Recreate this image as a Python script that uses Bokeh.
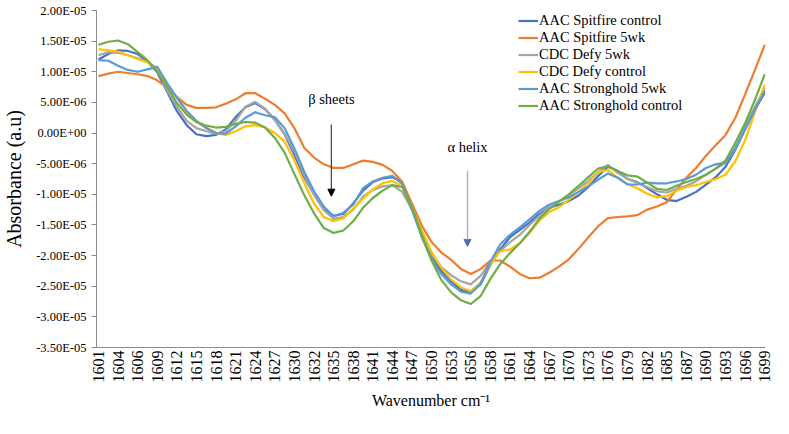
import math
from bokeh.plotting import figure
from bokeh.models import (Legend, LegendItem, FixedTicker, CustomJSTickFormatter,
                          Range1d, Arrow, NormalHead, Label, ColumnDataSource)
from bokeh.embed import file_html
from bokeh.resources import INLINE

# Wavenumber (cm-1) of each plotted sample
WAVENUMBER = [1600.62, 1602.07, 1603.51, 1604.96, 1606.41, 1607.85, 1609.30, 1610.74, 1612.19, 1613.64,
              1615.08, 1616.53, 1617.98, 1619.42, 1620.87, 1622.32, 1623.76, 1625.21, 1626.66, 1628.10,
              1629.55, 1630.99, 1632.44, 1633.89, 1635.33, 1636.78, 1638.23, 1639.67, 1641.12, 1642.57,
              1644.01, 1645.46, 1646.90, 1648.35, 1649.80, 1651.24, 1652.69, 1654.14, 1655.58, 1657.03,
              1658.48, 1659.92, 1661.37, 1662.82, 1664.26, 1665.71, 1667.15, 1668.60, 1670.05, 1671.49,
              1672.94, 1674.39, 1675.83, 1677.28, 1678.73, 1680.17, 1681.62, 1683.06, 1684.51, 1685.96,
              1687.40, 1688.85, 1690.30, 1691.74, 1693.19, 1694.64, 1696.08, 1697.53, 1698.98]

X_TICK_LABELS = ["1601", "1604", "1606", "1609", "1612", "1615", "1618", "1621", "1624", "1627",
                 "1630", "1632", "1635", "1638", "1641", "1644", "1647", "1650", "1653", "1656",
                 "1658", "1661", "1664", "1667", "1670", "1673", "1676", "1679", "1682", "1685",
                 "1687", "1690", "1693", "1696", "1699"]
X_TICKS = WAVENUMBER[0::2]

Y_TICKS = [-3.5e-05, -3.0e-05, -2.5e-05, -2.0e-05, -1.5e-05, -1.0e-05, -5.0e-06, 0.0,
           5.0e-06, 1.0e-05, 1.5e-05, 2.0e-05]
Y_TICK_LABELS = ["-3.50E-05", "-3.00E-05", "-2.50E-05", "-2.00E-05", "-1.50E-05", "-1.00E-05",
                 "-5.00E-06", "0.00E+00", "5.00E-06", "1.00E-05", "1.50E-05", "2.00E-05"]

SERIES_NAMES = ["AAC Spitfire control", "AAC Spitfire 5wk", "CDC Defy 5wk",
                "CDC Defy control", "AAC Stronghold 5wk", "AAC Stronghold control"]
SERIES_COLORS = ["#4472C4", "#ED7D31", "#A5A5A5", "#FFC000", "#5B9BD5", "#70AD47"]

spitfire_control = [12.0e-6, 12.9e-6, 13.5e-6, 13.4e-6, 12.9e-6, 11.7e-6, 9.9e-6, 6.8e-6, 3.6e-6, 1.3e-6,
                    -0.2e-6, -0.5e-6, -0.3e-6, 0.6e-6, 2.6e-6, 4.2e-6, 4.9e-6, 3.9e-6, 2.2e-6, -0.2e-6,
                    -3.6e-6, -7.2e-6, -10.0e-6, -12.5e-6, -13.5e-6, -13.2e-6, -11.5e-6, -9.4e-6, -8.0e-6, -7.4e-6,
                    -7.2e-6, -8.0e-6, -12.0e-6, -16.5e-6, -20.0e-6, -22.5e-6, -24.2e-6, -25.6e-6, -26.0e-6, -24.7e-6,
                    -21.5e-6, -19.0e-6, -17.0e-6, -15.8e-6, -14.6e-6, -13.2e-6, -12.2e-6, -11.7e-6, -11.1e-6, -10.2e-6,
                    -8.8e-6, -7.0e-6, -5.5e-6, -6.2e-6, -7.5e-6, -8.0e-6, -9.0e-6, -10.0e-6, -10.9e-6, -11.1e-6,
                    -10.4e-6, -9.6e-6, -8.4e-6, -7.2e-6, -5.5e-6, -2.7e-6, 0.6e-6, 3.8e-6, 6.6e-6]

spitfire_5wk = [9.3e-6, 9.7e-6, 10.0e-6, 9.8e-6, 9.6e-6, 9.3e-6, 8.6e-6, 7.4e-6, 5.9e-6, 4.6e-6,
                4.1e-6, 4.1e-6, 4.2e-6, 4.8e-6, 5.5e-6, 6.5e-6, 6.5e-6, 5.6e-6, 4.6e-6, 3.2e-6,
                0.8e-6, -2.4e-6, -4.0e-6, -5.1e-6, -5.7e-6, -5.7e-6, -5.1e-6, -4.5e-6, -4.7e-6, -5.2e-6,
                -6.2e-6, -8.0e-6, -11.5e-6, -15.1e-6, -17.8e-6, -19.5e-6, -20.7e-6, -22.2e-6, -23.0e-6, -22.2e-6,
                -20.8e-6, -20.8e-6, -21.8e-6, -23.0e-6, -23.7e-6, -23.6e-6, -22.8e-6, -21.8e-6, -20.6e-6, -18.9e-6,
                -17.0e-6, -15.2e-6, -13.9e-6, -13.7e-6, -13.6e-6, -13.4e-6, -12.5e-6, -12.0e-6, -11.3e-6, -9.2e-6,
                -7.3e-6, -5.7e-6, -3.7e-6, -2.0e-6, -0.3e-6, 2.5e-6, 6.3e-6, 10.3e-6, 14.4e-6]

defy_5wk = [12.7e-6, 13.2e-6, 13.1e-6, 12.7e-6, 12.2e-6, 11.6e-6, 10.6e-6, 7.0e-6, 4.3e-6, 2.0e-6,
            0.8e-6, 0.3e-6, -0.1e-6, 0.3e-6, 2.0e-6, 4.3e-6, 5.1e-6, 4.0e-6, 2.1e-6, -0.1e-6,
            -3.0e-6, -6.8e-6, -10.1e-6, -12.6e-6, -14.0e-6, -13.7e-6, -12.5e-6, -10.4e-6, -9.3e-6, -8.7e-6,
            -8.5e-6, -9.6e-6, -12.5e-6, -16.6e-6, -19.8e-6, -21.9e-6, -23.2e-6, -24.2e-6, -24.7e-6, -23.3e-6,
            -20.9e-6, -19.3e-6, -17.8e-6, -16.6e-6, -15.0e-6, -13.5e-6, -12.2e-6, -11.2e-6, -10.2e-6, -9.0e-6,
            -7.8e-6, -6.4e-6, -5.2e-6, -6.5e-6, -7.5e-6, -8.1e-6, -8.8e-6, -9.5e-6, -9.7e-6, -9.1e-6,
            -8.6e-6, -7.9e-6, -6.8e-6, -5.8e-6, -4.9e-6, -2.4e-6, 1.1e-6, 4.3e-6, 7.4e-6]

defy_control = [13.7e-6, 13.5e-6, 13.3e-6, 12.7e-6, 12.1e-6, 11.5e-6, 10.5e-6, 8.0e-6, 5.8e-6, 3.6e-6,
                1.8e-6, 0.9e-6, 0.0e-6, -0.3e-6, 0.3e-6, 1.1e-6, 1.3e-6, 0.9e-6, 0.0e-6, -1.4e-6,
                -4.5e-6, -8.1e-6, -11.5e-6, -13.7e-6, -14.4e-6, -13.9e-6, -12.3e-6, -10.7e-6, -9.2e-6, -8.2e-6,
                -7.8e-6, -8.7e-6, -12.1e-6, -15.9e-6, -19.4e-6, -22.0e-6, -23.9e-6, -25.2e-6, -25.8e-6, -24.4e-6,
                -21.4e-6, -19.3e-6, -19.0e-6, -18.0e-6, -16.3e-6, -14.3e-6, -12.9e-6, -12.1e-6, -10.9e-6, -9.6e-6,
                -8.2e-6, -6.4e-6, -6.0e-6, -7.3e-6, -8.3e-6, -9.0e-6, -9.9e-6, -10.5e-6, -10.3e-6, -9.4e-6,
                -8.8e-6, -8.5e-6, -8.0e-6, -7.5e-6, -6.8e-6, -4.6e-6, -1.2e-6, 3.4e-6, 7.9e-6]

stronghold_5wk = [11.9e-6, 11.8e-6, 11.0e-6, 10.3e-6, 10.0e-6, 10.4e-6, 10.8e-6, 8.2e-6, 5.8e-6, 3.6e-6,
                  2.0e-6, 0.8e-6, 0.0e-6, -0.1e-6, 1.1e-6, 2.5e-6, 3.4e-6, 2.9e-6, 2.6e-6, 0.8e-6,
                  -2.5e-6, -6.3e-6, -9.5e-6, -12.0e-6, -13.6e-6, -13.0e-6, -11.7e-6, -9.0e-6, -7.9e-6, -7.3e-6,
                  -7.0e-6, -8.3e-6, -12.5e-6, -17.0e-6, -20.7e-6, -23.0e-6, -24.7e-6, -25.9e-6, -26.2e-6, -24.6e-6,
                  -21.0e-6, -18.2e-6, -16.6e-6, -15.4e-6, -14.1e-6, -12.7e-6, -11.7e-6, -11.1e-6, -10.5e-6, -9.6e-6,
                  -8.7e-6, -7.6e-6, -6.6e-6, -7.3e-6, -8.4e-6, -8.4e-6, -8.1e-6, -8.2e-6, -8.2e-6, -7.9e-6,
                  -7.5e-6, -6.8e-6, -5.7e-6, -5.1e-6, -4.8e-6, -2.6e-6, 0.6e-6, 3.8e-6, 6.9e-6]

stronghold_control = [14.4e-6, 14.9e-6, 15.1e-6, 14.5e-6, 13.2e-6, 11.9e-6, 10.0e-6, 7.6e-6, 4.9e-6, 3.0e-6,
                      1.8e-6, 1.2e-6, 0.9e-6, 1.0e-6, 1.5e-6, 1.8e-6, 1.7e-6, 0.9e-6, -0.8e-6, -3.2e-6,
                      -6.7e-6, -10.1e-6, -13.1e-6, -15.5e-6, -16.3e-6, -15.9e-6, -14.4e-6, -12.2e-6, -10.6e-6, -9.4e-6,
                      -8.5e-6, -8.8e-6, -12.0e-6, -16.6e-6, -20.8e-6, -24.0e-6, -26.0e-6, -27.3e-6, -27.9e-6, -26.6e-6,
                      -23.8e-6, -21.4e-6, -19.6e-6, -18.0e-6, -16.1e-6, -14.0e-6, -12.4e-6, -11.2e-6, -10.0e-6, -8.6e-6,
                      -7.2e-6, -5.8e-6, -5.4e-6, -6.2e-6, -6.9e-6, -7.1e-6, -8.1e-6, -9.1e-6, -9.3e-6, -8.6e-6,
                      -8.0e-6, -7.5e-6, -6.8e-6, -5.8e-6, -4.5e-6, -1.6e-6, 1.6e-6, 5.4e-6, 9.6e-6]

SERIES = [spitfire_control, spitfire_5wk, defy_5wk, defy_control, stronghold_5wk, stronghold_control]

# Annotations (data coordinates)
BETA_TEXT = "β sheets"
ALPHA_TEXT = "α helix"
BETA_X, BETA_TEXT_Y, BETA_Y0, BETA_Y1 = 1635.0, 5.5e-6, 1.4e-6, -10.3e-6
ALPHA_X, ALPHA_TEXT_Y, ALPHA_Y0, ALPHA_Y1 = 1655.1, -2.3e-6, -6.2e-6, -18.5e-6

FONT = "Liberation Serif"

p = figure(width=773, height=418,
           x_range=Range1d(1600.33, 1699.09), y_range=Range1d(-3.5e-05, 2.0e-05),
           output_backend="svg", toolbar_location=None,
           min_border_left=89, min_border_right=8, min_border_top=10, min_border_bottom=71)
p.outline_line_color = None
p.xgrid.grid_line_color = None
p.ygrid.grid_line_color = None
p.background_fill_color = "white"

lookup_code = """
let best = 0;
for (let i = 1; i < tick_pos.length; i++) {
  if (Math.abs(tick_pos[i] - tick) < Math.abs(tick_pos[best] - tick)) best = i;
}
return tick_labels[best];
"""

# x axis
p.xaxis.ticker = FixedTicker(ticks=X_TICKS)
p.xaxis.formatter = CustomJSTickFormatter(args=dict(tick_pos=X_TICKS, tick_labels=X_TICK_LABELS),
                                          code=lookup_code)
p.xaxis.major_label_orientation = math.pi / 2
p.xaxis.major_label_text_font = FONT
p.xaxis.major_label_text_font_size = "16px"
p.xaxis.major_label_text_color = "#000000"
p.xaxis.major_label_standoff = 3
p.xaxis.major_tick_out = 0
p.xaxis.major_tick_in = 0
p.xaxis.minor_tick_line_color = None
p.xaxis.axis_line_color = "#8C8C8C"
p.xaxis.axis_label = "Wavenumber cm⁻¹"
p.xaxis.axis_label_text_font = FONT
p.xaxis.axis_label_text_font_size = "16px"
p.xaxis.axis_label_text_font_style = "normal"
p.xaxis.axis_label_text_color = "#000000"
p.xaxis.axis_label_standoff = 6

# y axis
p.yaxis.ticker = FixedTicker(ticks=Y_TICKS)
p.yaxis.formatter = CustomJSTickFormatter(args=dict(tick_pos=Y_TICKS, tick_labels=Y_TICK_LABELS),
                                          code=lookup_code)
p.yaxis.major_label_text_font = FONT
p.yaxis.major_label_text_font_size = "12.5px"
p.yaxis.major_label_text_color = "#000000"
p.yaxis.major_label_standoff = 5
p.yaxis.major_tick_out = 5
p.yaxis.major_tick_in = 0
p.yaxis.minor_tick_line_color = None
p.yaxis.axis_line_color = "#8C8C8C"
p.yaxis.major_tick_line_color = "#8C8C8C"
p.yaxis.axis_label = "Absorbance (a.u)"
p.yaxis.axis_label_text_font = FONT
p.yaxis.axis_label_text_font_size = "20px"
p.yaxis.axis_label_text_font_style = "normal"
p.yaxis.axis_label_text_color = "#000000"
p.yaxis.axis_label_standoff = 8

source = ColumnDataSource(dict(x=WAVENUMBER, **{f"s{i}": s for i, s in enumerate(SERIES)}))

items = []
for i, (name, color) in enumerate(zip(SERIES_NAMES, SERIES_COLORS)):
    r = p.line("x", f"s{i}", source=source, line_color=color, line_width=2.2, line_join="round")
    items.append(LegendItem(label=name, renderers=[r]))

legend = Legend(items=items, location=(422, 233),
                label_text_font=FONT, label_text_font_size="14.5px", label_text_color="#000000",
                glyph_width=20, glyph_height=17, label_height=17, label_standoff=1,
                spacing=0, padding=0, margin=0,
                border_line_alpha=0, background_fill_alpha=0)
p.add_layout(legend)

# beta sheets annotation
p.add_layout(Label(x=BETA_X, y=BETA_TEXT_Y, text=BETA_TEXT, text_align="center", text_baseline="middle",
                   text_font=FONT, text_font_size="14.5px", text_color="#000000"))
p.add_layout(Arrow(x_start=BETA_X, y_start=BETA_Y0, x_end=BETA_X, y_end=BETA_Y1,
                   line_color="#404040", line_width=1.2,
                   end=NormalHead(size=7, fill_color="#000000", line_color="#000000")))

# alpha helix annotation
p.add_layout(Label(x=ALPHA_X, y=ALPHA_TEXT_Y, text=ALPHA_TEXT, text_align="center", text_baseline="middle",
                   text_font=FONT, text_font_size="14.5px", text_color="#000000"))
p.add_layout(Arrow(x_start=ALPHA_X, y_start=ALPHA_Y0, x_end=ALPHA_X, y_end=ALPHA_Y1,
                   line_color="#A3B5D0", line_width=1.5,
                   end=NormalHead(size=7, fill_color="#4F6FA8", line_color="#4F6FA8")))

open("out.html", "w").write(file_html(p, INLINE))
